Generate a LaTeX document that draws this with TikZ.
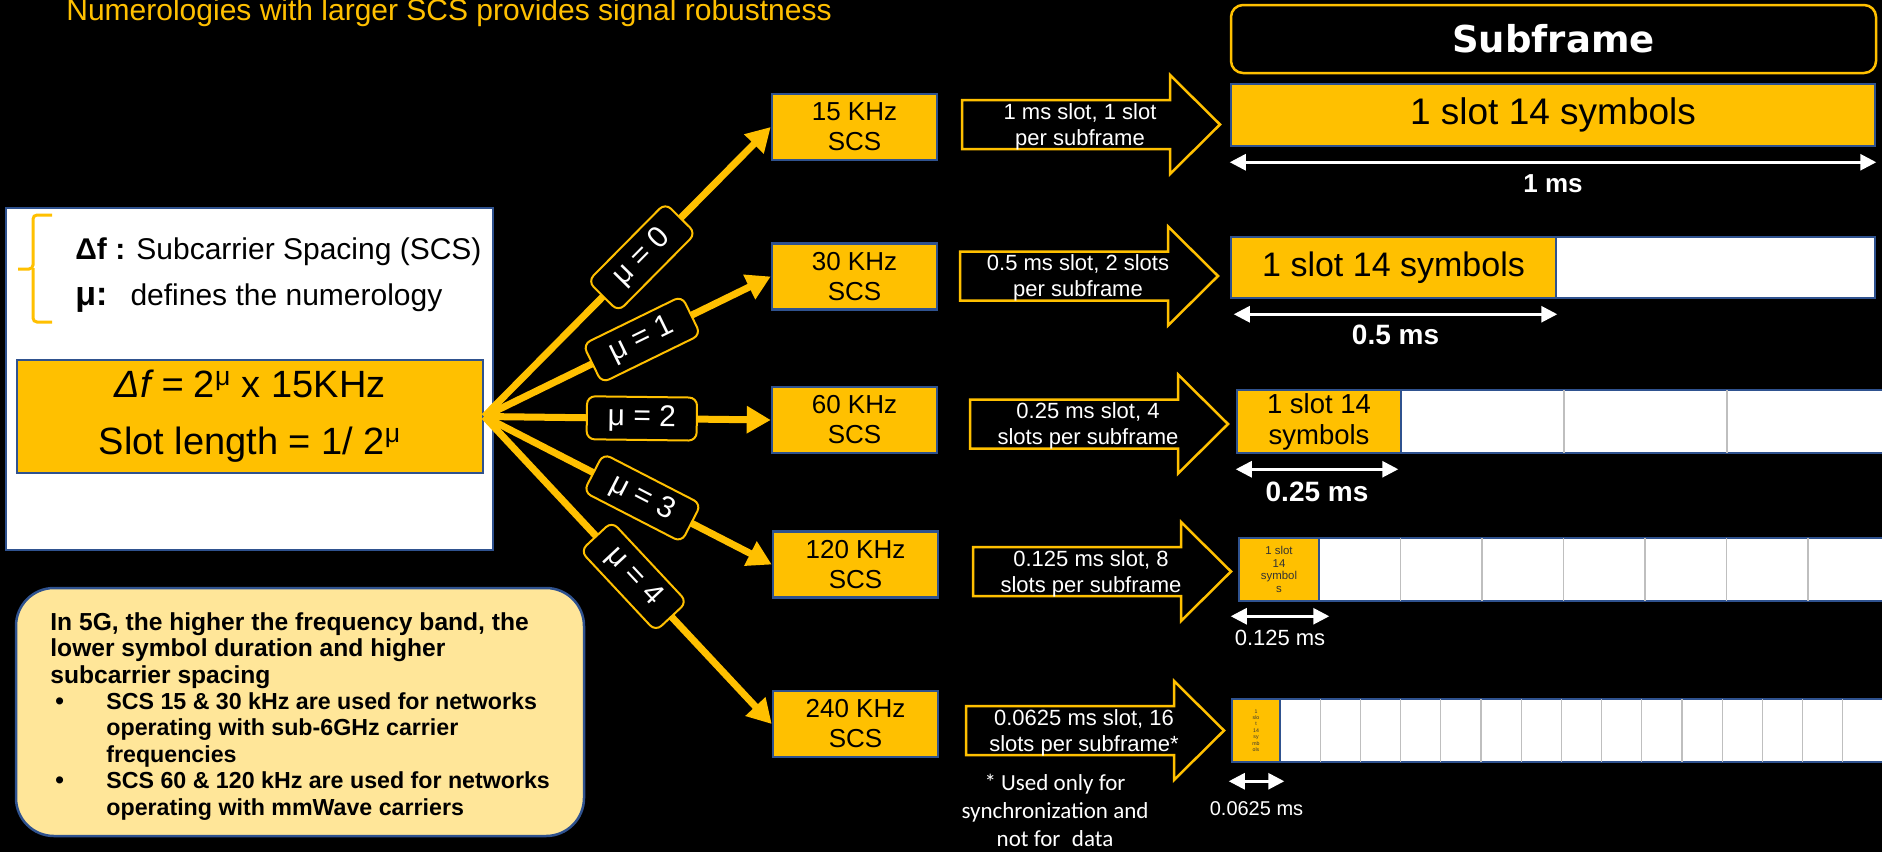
\documentclass[tikz,border=0pt]{standalone}
\usepackage{fontspec}
\setmainfont{Liberation Sans}
\newfontfamily\notefont{Carlito}
\newfontfamily\headfont{DejaVu Sans}
\usetikzlibrary{arrows.meta}
\definecolor{nrYellow}{RGB}{255,192,0}
\definecolor{nrBlue}{RGB}{47,82,143}
\definecolor{nrCream}{RGB}{255,230,153}
\definecolor{nrGrey}{RGB}{191,191,191}
\def\slotarrow(#1,#2)#3#4{\draw[blockarrow] (#1,#2-24.5) -- (#1+208,#2-24.5) -- (#1+208,#2-49.5) -- (#1+258,#2) -- (#1+208,#2+49.5) -- (#1+208,#2+24.5) -- (#1,#2+24.5) -- cycle;
\node[arrowtext] (#3) at (#1+118,#2+2) {#4};}
\def\notebullet{\hspace*{2.5pt}\makebox[25.5pt][l]{\textbullet}\fontsize{11.6}{13.2}\selectfont}
\def\noteindent{\hspace*{28pt}\fontsize{11.6}{13.2}\selectfont}

\begin{document}
\begin{tikzpicture}[x=0.5pt,y=-0.5pt,
	panel/.style={draw=nrBlue, line width=1pt, fill=white},
	formulabox/.style={draw=nrBlue, line width=1.25pt, fill=nrYellow, minimum width=233pt, minimum height=56.5pt, align=center, font=\fontsize{19}{28.5}\selectfont, inner sep=0pt},
	deftext/.style={inner sep=0pt, font=\fontsize{15}{18}\selectfont},
	notebox/.style={draw=nrBlue, line width=1.25pt, fill=nrCream, rounded corners=19pt, minimum width=284pt, minimum height=124pt},
	notetext/.style={inner sep=0pt, align=left, font=\bfseries\fontsize{12.3}{13.2}\selectfont},
	scsbox/.style={draw=nrBlue, line width=1.25pt, fill=nrYellow, minimum width=82.5pt, minimum height=33pt, inner sep=1pt, align=center, font=\fontsize{13}{15}\selectfont},
	fan/.style={nrYellow, line width=3.5pt, -{Triangle[length=12pt,width=13pt]}},
	mulabel/.style={draw=nrYellow, line width=1pt, fill=black, text=white, rounded corners=4pt, minimum width=55pt, minimum height=21.5pt, inner sep=2pt, font=\fontsize{15}{18}\selectfont},
	blockarrow/.style={draw=nrYellow, line width=1.25pt, fill=black},
	arrowtext/.style={text=white, align=center, inner sep=0pt, font=\fontsize{11}{13}\selectfont},
	headbox/.style={draw=nrYellow, line width=1.25pt, fill=black, rounded corners=6pt, minimum width=322.5pt, minimum height=34pt, text=white, font=\headfont\bfseries\fontsize{18.5}{22}\selectfont},
	slotbox/.style={draw=nrBlue, line width=1.25pt, fill=nrYellow, minimum height=31.5pt, inner sep=0pt, align=center},
	slotframe/.style={draw=nrBlue, line width=1.25pt, fill=white},
	divider/.style={nrGrey, line width=0.6pt},
	dimarrow/.style={white, line width=1.4pt, {Triangle[length=8pt,width=8pt]}-{Triangle[length=8pt,width=8pt]}},
	dimlabel/.style={text=white, inner sep=0pt}]
	%%%%% START %%%%%
	
	\useasboundingbox (0,0) rectangle (1882,852);
	\fill[black] (0,0) rectangle (1882,852);
	
	\node[anchor=base west, inner sep=0pt, text=nrYellow, font=\fontsize{15}{18}\selectfont] (title) at (66,20) {Numerologies with larger SCS provides signal robustness};
	
	% definitions and formula
	\node[panel, minimum width=243.5pt, minimum height=171pt] (defpanel) at (249.5,379) {};
	\draw[nrYellow, line width=1.5pt, rounded corners=2pt] (52,215) -| (33,269) -- (18,269);
	\draw[nrYellow, line width=1.5pt, rounded corners=2pt] (33,268) |- (52,322);
	\node[deftext, anchor=base west] (dfdef) at (75,259) {\textbf{Δf :} Subcarrier Spacing (SCS)};
	\node[deftext, anchor=base west] (mudef) at (75,305) {{\bfseries\fontsize{17}{20}\selectfont μ:}\hspace{11.5pt}defines the numerology};
	\node[formulabox] (formula) at (250,416.5) {{\itshape Δf =} 2\textsuperscript{μ} x 15KHz\\Slot length = 1/ 2\textsuperscript{μ}};
	
	\node[notebox] (note) at (300,712) {};
	\node[notetext, anchor=north west] (notetext) at (50,612) {In 5G, the higher the frequency band, the\\lower symbol duration and higher\\subcarrier spacing\\
		\notebullet SCS 15 \& 30 kHz are used for networks\\
		\noteindent operating with sub-6GHz carrier\\
		\noteindent frequencies\\
		\notebullet SCS 60 \& 120 kHz are used for networks\\
		\noteindent operating with mmWave carriers};
	
	% subcarrier spacings
	\node[scsbox] (scs15) at (854.5,127) {15 KHz\\SCS};
	\node[scsbox] (scs30) at (854.5,276.5) {30 KHz\\SCS};
	\node[scsbox] (scs60) at (854.5,420) {60 KHz\\SCS};
	\node[scsbox] (scs120) at (855.5,564.5) {120 KHz\\SCS};
	\node[scsbox] (scs240) at (855.5,724) {240 KHz\\SCS};
	
	\draw[fan] (formula.east) -- node[mulabel, pos=.55, sloped] (mu0) {μ = 0} (scs15.west);
	\draw[fan] (formula.east) -- node[mulabel, pos=.55, sloped] (mu1) {μ = 1} (scs30.west);
	\draw[fan] (formula.east) -- node[mulabel, pos=.55, sloped] (mu2) {μ = 2} (scs60.west);
	\draw[fan] (formula.east) -- node[mulabel, pos=.55, sloped] (mu3) {μ = 3} (scs120.west);
	\draw[fan] (formula.east) -- node[mulabel, pos=.52, sloped] (mu4) {μ = 4} (scs240.west);
	
	\slotarrow(962,124.5){arr15}{1 ms slot, 1 slot\\per subframe}
	\slotarrow(960,276){arr30}{0.5 ms slot, 2 slots\\per subframe}
	\slotarrow(970,424){arr60}{0.25 ms slot, 4\\slots per subframe}
	\slotarrow(973,571.5){arr120}{0.125 ms slot, 8\\slots per subframe}
	\slotarrow(966,730.5){arr240}{0.0625 ms slot, 16\\slots per subframe*}
	\node[text=white, align=center, inner sep=0pt, font=\notefont\fontsize{11.5}{14}\selectfont] (usednote) at (1055,810) {* Used only for\\synchronization and\\not for\enspace data};
	
	% subframes
	\node[headbox] (subframe) at (1553.5,39) {Subframe};
	
	\node[slotbox, minimum width=322pt, minimum height=31pt, font=\fontsize{18.5}{22}\selectfont] (f1slot) at (1553,115) {1 slot 14 symbols};
	\draw[dimarrow] ([yshift=-7.5pt]f1slot.south west) -- node[dimlabel, yshift=-10.5pt, font=\bfseries\fontsize{13}{15}\selectfont] (ms1) {1 ms} ([yshift=-7.5pt]f1slot.south east);
	
	\draw[slotframe] (1231,237) rectangle (1875,298);
	\node[slotbox, minimum width=162.5pt, minimum height=30.5pt, font=\fontsize{17}{20}\selectfont] (f2slot) at (1393.5,267.5) {1 slot 14 symbols};
	\draw[dimarrow] ([xshift=2pt,yshift=-7.5pt]f2slot.south west) -- node[dimlabel, yshift=-10.5pt, font=\bfseries\fontsize{14}{16}\selectfont] (ms2) {0.5 ms} ([yshift=-7.5pt]f2slot.south east);
	
	\draw[slotframe] (1237,390) rectangle (1895,453);
	\foreach \x in {1564,1727} \draw[divider] (\x,390) -- (\x,453);
	\node[slotbox, minimum width=82pt, font=\fontsize{13.75}{15.5}\selectfont] (f3slot) at (1319,421.5) {1 slot 14\\symbols};
	\draw[dimarrow] ([yshift=-7.5pt]f3slot.south west) -- node[dimlabel, yshift=-11.5pt, font=\bfseries\fontsize{14}{16}\selectfont] (ms3) {0.25 ms} ([xshift=-2pt,yshift=-7.5pt]f3slot.south east);
	
	\draw[slotframe] (1239,538) rectangle (1895,601);
	\foreach \x in {1400.5,1482,1563.5,1645,1726.5,1808} \draw[divider] (\x,538) -- (\x,601);
	\node[slotbox, minimum width=40pt, text=black!80, font=\fontsize{5.7}{6.4}\selectfont] (f4slot) at (1279,569.5) {1 slot\\14\\symbol\\s};
	\draw[dimarrow] ([xshift=-3.5pt,yshift=-7pt]f4slot.south west) -- node[dimlabel, yshift=-11pt, font=\fontsize{11}{13}\selectfont] (ms4) {0.125 ms} ([xshift=4.5pt,yshift=-7pt]f4slot.south east);
	
	\draw[slotframe] (1232,699) rectangle (1895,762);
	\foreach \k in {1,...,15} \draw[divider] (1280+40.2*\k,699) -- (1280+40.2*\k,762);
	\node[slotbox, minimum width=24pt, text=black!80, font=\fontsize{2.6}{3.2}\selectfont] (f5slot) at (1256,730.5) {1\\slo\\t\\14\\sy\\mb\\ols};
	\draw[dimarrow] ([xshift=-1pt,yshift=-9pt]f5slot.south west) -- node[dimlabel, yshift=-13.5pt, font=\fontsize{10}{12}\selectfont] (ms5) {0.0625 ms} ([xshift=1.5pt,yshift=-9pt]f5slot.south east);
	
	%%%%% END %%%%%
\end{tikzpicture}
\end{document}
